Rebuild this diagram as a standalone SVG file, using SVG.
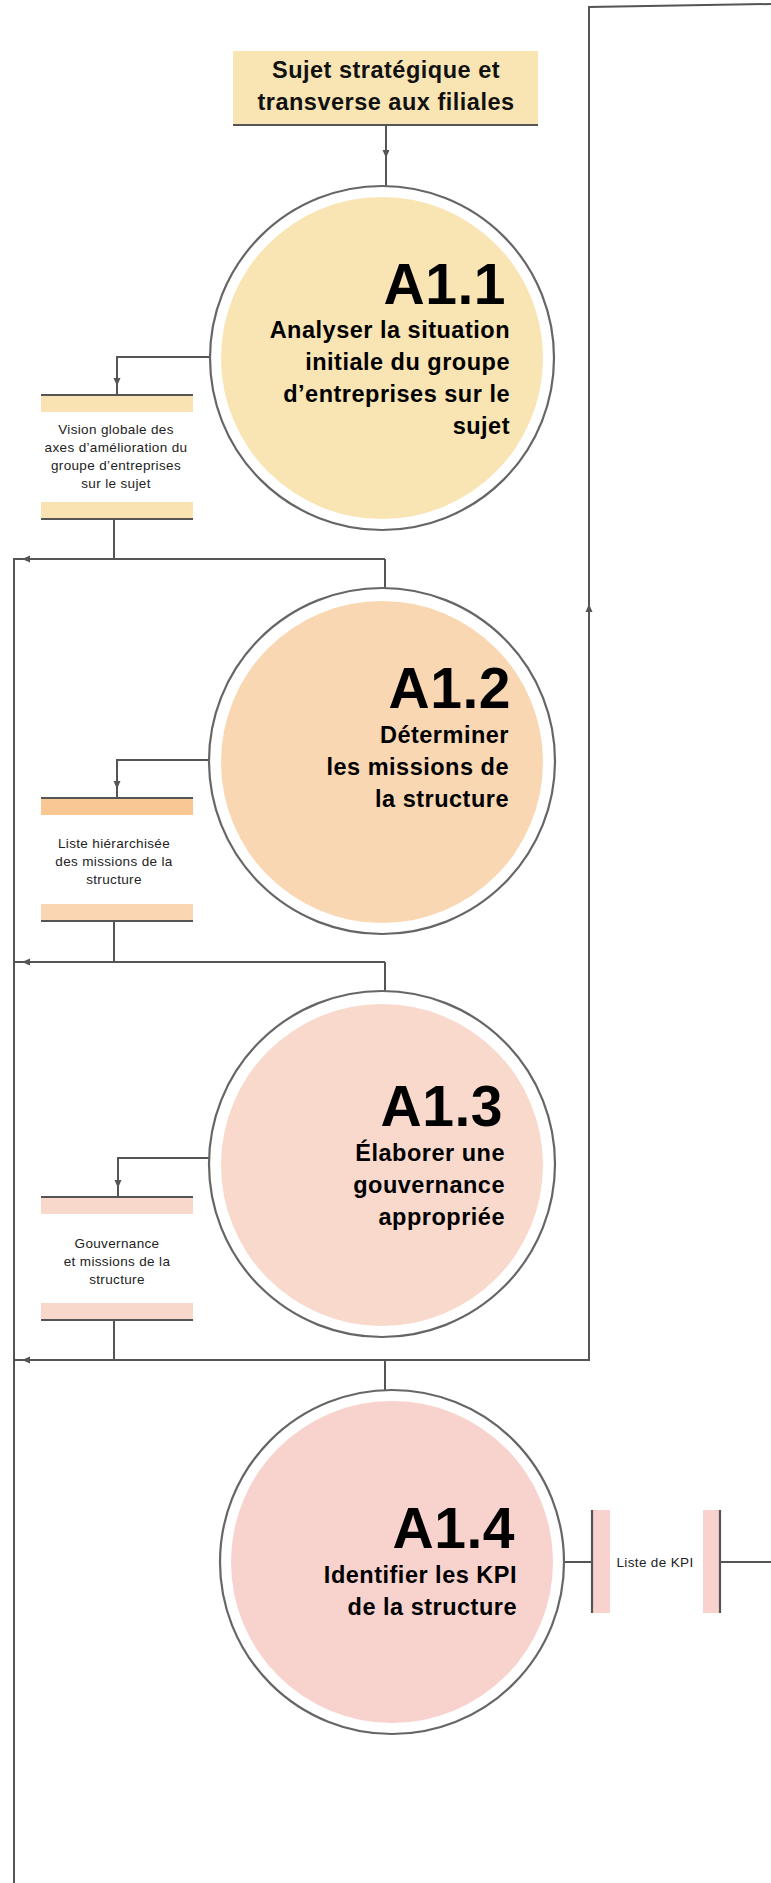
<svg xmlns="http://www.w3.org/2000/svg" width="771" height="1883" viewBox="0 0 771 1883">
<defs>
<style>
.ln{fill:none;stroke:#555;stroke-width:2}
.arw{fill:none;stroke:#555;stroke-width:2;marker-end:url(#arr)}
.ring{fill:#fff;stroke:#666;stroke-width:2.2}
.big{font-family:"Liberation Sans",Arial,sans-serif;font-weight:bold;font-size:57px;letter-spacing:0.5px;text-anchor:end;fill:#000}
.sub{font-family:"Liberation Sans",Arial,sans-serif;font-weight:bold;font-size:23.5px;letter-spacing:0.5px;text-anchor:end;fill:#000}
.hd{font-family:"Liberation Sans",Arial,sans-serif;font-weight:bold;font-size:23.5px;letter-spacing:0.5px;text-anchor:middle;fill:#111}
.st{font-family:"Liberation Sans",Arial,sans-serif;font-size:13.5px;letter-spacing:0.35px;text-anchor:middle;fill:#222}
.bar{stroke:none}
.edge{stroke:#555;stroke-width:2.2}
</style>
<marker id="arr" markerUnits="userSpaceOnUse" markerWidth="9" markerHeight="8" refX="8" refY="4" orient="auto">
<path d="M0,0.5 L8,4 L0,7.5 z" fill="#555"/>
</marker>
</defs>
<rect width="771" height="1883" fill="#fff"/>

<g id="connectors">
<path class="arw" d="M386,126 V158"/>
<path class="ln" d="M386,157 V187"/>
<path class="arw" d="M210,357 H117 V386"/>
<path class="ln" d="M117,385 V394"/>
<path class="ln" d="M114,520 V559"/>
<path class="arw" d="M385,559 H22"/>
<path class="ln" d="M23,559 H14"/>
<path class="ln" d="M385,559 V588"/>
<path class="ln" d="M14,558 V1883"/>
<path class="arw" d="M209,760 H117 V789"/>
<path class="ln" d="M117,788 V797"/>
<path class="ln" d="M114,922 V962"/>
<path class="arw" d="M385,962 H22"/>
<path class="ln" d="M23,962 H14"/>
<path class="ln" d="M385,962 V991"/>
<path class="arw" d="M209,1158 H118 V1188"/>
<path class="ln" d="M118,1187 V1196"/>
<path class="ln" d="M114,1320 V1360"/>
<path class="arw" d="M589,1360 H22"/>
<path class="ln" d="M23,1360 H14"/>
<path class="ln" d="M385,1360 V1390"/>
<path class="arw" d="M589,1361 V604"/>
<path class="ln" d="M589,605 V7 L771,4"/>
<path class="ln" d="M563,1562 H592"/>
<path class="ln" d="M720,1562 H771"/>
</g>

<g id="subject">
<rect x="233" y="51" width="305" height="74" fill="#F9E4B4"/>
<line class="edge" x1="233" y1="125" x2="538" y2="125"/>
<text class="hd" x="386" y="78">Sujet stratégique et</text>
<text class="hd" x="386" y="110">transverse aux filiales</text>
</g>

<g id="A1.1">
<circle class="ring" cx="382" cy="358" r="172"/>
<circle cx="382" cy="358" r="161" fill="#F9E4B4"/>
<text class="big" x="506" y="304">A1.1</text>
<text class="sub" x="510" y="338">Analyser la situation</text>
<text class="sub" x="510" y="370">initiale du groupe</text>
<text class="sub" x="510" y="402">d’entreprises sur le</text>
<text class="sub" x="510" y="434">sujet</text>
</g>

<g id="store1">
<rect class="bar" x="41" y="395" width="152" height="17" fill="#F9E3B3"/>
<line class="edge" x1="41" y1="395" x2="193" y2="395"/>
<rect class="bar" x="41" y="502" width="152" height="17" fill="#F9E3B3"/>
<line class="edge" x1="41" y1="519" x2="193" y2="519"/>
<text class="st" x="116" y="434">Vision globale des</text>
<text class="st" x="116" y="452">axes d’amélioration du</text>
<text class="st" x="116" y="470">groupe d’entreprises</text>
<text class="st" x="116" y="488">sur le sujet</text>
</g>

<g id="A1.2">
<circle class="ring" cx="382" cy="761" r="173"/>
<circle cx="382" cy="762" r="161" fill="#FAD7B3"/>
<text class="big" x="511" y="708">A1.2</text>
<text class="sub" x="509" y="743">Déterminer</text>
<text class="sub" x="509" y="775">les missions de</text>
<text class="sub" x="509" y="807">la structure</text>
</g>

<g id="store2">
<rect class="bar" x="41" y="798" width="152" height="17" fill="#F8C794"/>
<line class="edge" x1="41" y1="798" x2="193" y2="798"/>
<rect class="bar" x="41" y="904" width="152" height="17" fill="#FAD6B2"/>
<line class="edge" x1="41" y1="921" x2="193" y2="921"/>
<text class="st" x="114" y="848">Liste hiérarchisée</text>
<text class="st" x="114" y="866">des missions de la</text>
<text class="st" x="114" y="884">structure</text>
</g>

<g id="A1.3">
<circle class="ring" cx="382" cy="1164" r="173"/>
<circle cx="382" cy="1165" r="161" fill="#F8D9CB"/>
<text class="big" x="503" y="1126">A1.3</text>
<text class="sub" x="505" y="1161">Élaborer une</text>
<text class="sub" x="505" y="1193">gouvernance</text>
<text class="sub" x="505" y="1225">appropriée</text>
</g>

<g id="store3">
<rect class="bar" x="41" y="1197" width="152" height="17" fill="#F8D8CA"/>
<line class="edge" x1="41" y1="1197" x2="193" y2="1197"/>
<rect class="bar" x="41" y="1303" width="152" height="17" fill="#F8D8CA"/>
<line class="edge" x1="41" y1="1320" x2="193" y2="1320"/>
<text class="st" x="117" y="1248">Gouvernance</text>
<text class="st" x="117" y="1266">et missions de la</text>
<text class="st" x="117" y="1284">structure</text>
</g>

<g id="A1.4">
<circle class="ring" cx="392" cy="1562" r="172"/>
<circle cx="392" cy="1562" r="161" fill="#F8D2CC"/>
<text class="big" x="515" y="1548">A1.4</text>
<text class="sub" x="517" y="1583">Identifier les KPI</text>
<text class="sub" x="517" y="1615">de la structure</text>
</g>

<g id="store4">
<rect class="bar" x="593" y="1510" width="17" height="103" fill="#F8D2CC"/>
<line class="edge" x1="592" y1="1510" x2="592" y2="1613"/>
<rect class="bar" x="703" y="1510" width="17" height="103" fill="#F8D2CC"/>
<line class="edge" x1="720" y1="1510" x2="720" y2="1613"/>
<text class="st" x="655" y="1567">Liste de KPI</text>
</g>
</svg>
